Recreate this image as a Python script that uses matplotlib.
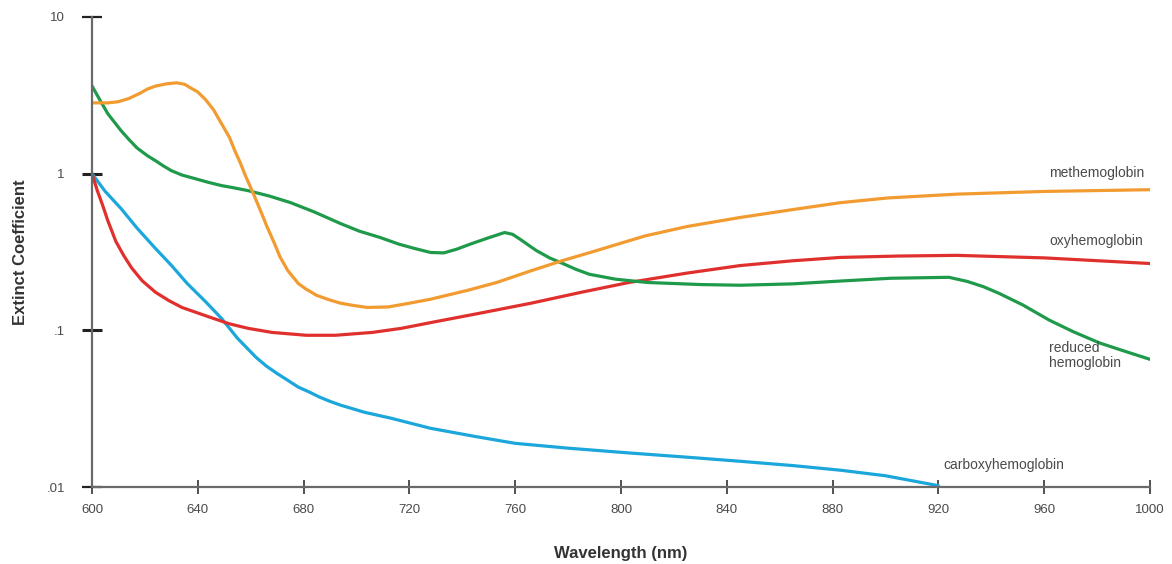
#!/usr/bin/env python
# -*- coding: utf-8 -*-

""" Hemoglobin extinction coefficient chart """

import matplotlib
matplotlib.use('Agg')
import matplotlib.pyplot as plt

# wavelengths (nm) and extinction coefficients
METHB_NM = [600, 606, 610, 614, 618, 621, 624, 628, 632, 635, 637, 640, 643,
            646, 649, 652, 654, 656, 658, 661, 664, 666, 669, 671, 674, 678,
            681, 685, 690, 694, 699, 704, 712, 720, 728, 742, 753, 766, 778,
            790, 800, 809, 825, 845, 865, 883, 901, 927, 960, 1000]
METHB = [2.83, 2.83, 2.88, 3.02, 3.25, 3.47, 3.62, 3.74, 3.80, 3.72, 3.55,
         3.32, 2.96, 2.55, 2.08, 1.70, 1.40, 1.18, 0.971, 0.746, 0.565, 0.466,
         0.358, 0.296, 0.241, 0.199, 0.183, 0.167, 0.156, 0.149, 0.144, 0.140,
         0.141, 0.149, 0.158, 0.180, 0.202, 0.240, 0.279, 0.32, 0.36, 0.40,
         0.46, 0.525, 0.59, 0.653, 0.70, 0.74, 0.77, 0.79]

OXYHB_NM = [600, 602, 604, 606, 609, 612, 615, 619, 624, 629, 634, 640, 646,
            652, 659, 668, 681, 692, 706, 717, 728, 747, 766, 785, 803, 825,
            845, 865, 883, 905, 927, 960, 1000]
OXYHB = [1.0, 0.78, 0.63, 0.50, 0.37, 0.30, 0.25, 0.207, 0.175, 0.155, 0.14,
         0.129, 0.119, 0.11, 0.103, 0.097, 0.093, 0.093, 0.097, 0.103, 0.112,
         0.129, 0.149, 0.175, 0.202, 0.232, 0.259, 0.278, 0.292, 0.298, 0.301,
         0.29, 0.267]

REDHB_NM = [600, 603, 606, 611, 614, 617, 621, 624, 627, 630, 634, 639, 644,
            649, 654, 659, 667, 675, 684, 694, 701, 709, 716, 722, 728, 733,
            738, 743, 750, 756, 759, 762, 765, 768, 773, 778, 783, 788, 798,
            810, 830, 845, 865, 880, 902, 924, 931, 937, 943, 952, 962, 971,
            981, 990, 1000]
REDHB = [3.63, 2.95, 2.41, 1.88, 1.65, 1.46, 1.3, 1.21, 1.12, 1.045, 0.98,
         0.929, 0.88, 0.839, 0.81, 0.779, 0.72, 0.654, 0.57, 0.480, 0.43,
         0.391, 0.355, 0.333, 0.314, 0.312, 0.33, 0.355, 0.39, 0.421, 0.41,
         0.38, 0.35, 0.323, 0.29, 0.267, 0.245, 0.228, 0.212, 0.202, 0.196,
         0.194, 0.198, 0.205, 0.215, 0.218, 0.205, 0.19, 0.172, 0.145, 0.116,
         0.098, 0.083, 0.074, 0.0653]

COHB_NM = [600, 605, 611, 617, 624, 630, 636, 643, 649, 655, 662, 666, 670,
           674, 678, 682, 686, 690, 694, 703, 713, 728, 745, 760, 780, 803,
           825, 845, 865, 883, 900, 920]
COHB = [1.0, 0.77, 0.598, 0.45, 0.333, 0.26, 0.199, 0.152, 0.119, 0.089,
        0.0673, 0.059, 0.053, 0.048, 0.0434, 0.0405, 0.0375, 0.0352, 0.0333,
        0.030, 0.0275, 0.0237, 0.021, 0.019, 0.0177, 0.0165, 0.0155, 0.0146,
        0.0137, 0.0128, 0.0118, 0.0102]

X_TICKS = [600, 640, 680, 720, 760, 800, 840, 880, 920, 960, 1000]
Y_TICKS = [0.01, 0.1, 1, 10]
Y_TICK_LABELS = ['.01', '.1', '1', '10']

ORANGE = '#f29b30'
RED = '#e0302e'
GREEN = '#1f9a4b'
BLUE = '#1ba7db'
AXIS_GRAY = '#6a6a6a'
TEXT_GRAY = '#4a4a4a'


def main():
    """Main function"""
    plt.rcParams['font.family'] = ['Liberation Sans', 'DejaVu Sans']

    fig = plt.figure(figsize=(11.72, 5.64), dpi=100)
    ax = fig.add_axes([0.0785, 0.1365, 0.9027, 0.8334])

    line_kw = dict(linewidth=2.3, solid_capstyle='round',
                   solid_joinstyle='round')
    ax.plot(COHB_NM, COHB, color=BLUE, **line_kw)
    ax.plot(OXYHB_NM, OXYHB, color=RED, **line_kw)
    ax.plot(REDHB_NM, REDHB, color=GREEN, **line_kw)
    ax.plot(METHB_NM, METHB, color=ORANGE, **line_kw)

    ax.set_yscale('log')
    ax.set_xlim(600, 1000)
    ax.set_ylim(0.01, 10)

    for side in ('top', 'right'):
        ax.spines[side].set_visible(False)
    for side in ('left', 'bottom'):
        ax.spines[side].set_color(AXIS_GRAY)
        ax.spines[side].set_linewidth(1.6)

    ax.set_xticks(X_TICKS)
    ax.set_xticklabels([str(t) for t in X_TICKS])
    ax.set_yticks(Y_TICKS)
    ax.set_yticklabels(Y_TICK_LABELS)
    ax.minorticks_off()

    ax.tick_params(axis='x', direction='inout', length=10, width=1.2,
                   color='#333333', pad=7, labelsize=9.5, labelcolor=TEXT_GRAY)
    ax.tick_params(axis='y', direction='inout', length=15, width=2.2,
                   color='#222222', pad=12, labelsize=9.5, labelcolor=TEXT_GRAY)
    yticks = ax.yaxis.get_major_ticks()
    for idx in (0, 3):
        yticks[idx].tick1line.set_color(AXIS_GRAY)
        yticks[idx].tick1line.set_markeredgewidth(1.6)

    ax.set_xlabel('Wavelength (nm)', fontsize=12, fontweight='bold',
                  color='#333333', labelpad=22)
    ax.set_ylabel('Extinct Coefficient', fontsize=12, fontweight='bold',
                  color='#333333', labelpad=13)

    label_kw = dict(fontsize=10, color=TEXT_GRAY, va='center', ha='left')
    ax.text(962, 1.015, 'methemoglobin', **label_kw)
    ax.text(962, 0.374, 'oxyhemoglobin', **label_kw)
    ax.text(962, 0.069, 'reduced\nhemoglobin', linespacing=1.1, **label_kw)
    ax.text(922, 0.0138, 'carboxyhemoglobin', **label_kw)

    fig.savefig('out.png', dpi=100)
    plt.close('all')


if __name__ == '__main__':
    main()
